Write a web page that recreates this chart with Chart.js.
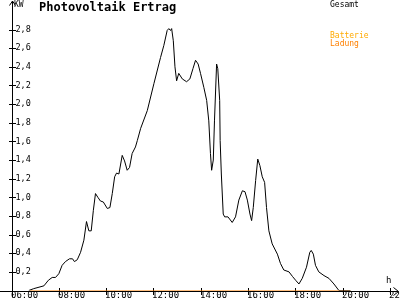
<!DOCTYPE html>
<html>
<head>
<meta charset="utf-8">
<title>Photovoltaik Ertrag</title>
<script src="https://cdn.jsdelivr.net/npm/chart.js@4.4.0/dist/chart.umd.min.js"></script>
<style>
  html, body { margin: 0; padding: 0; background: #fff; }
  #chart { display: block; }
</style>
</head>
<body>
<canvas id="chart" width="400" height="300"></canvas>
<script>
// Zeitpunkte (Stunden) und Leistung in kW
const hours = [
    6.73, 6.94, 7.37, 7.56, 7.72, 7.86, 8.00, 8.14, 8.28, 8.45, 8.58, 8.66, 8.78,
    8.92, 9.06, 9.17, 9.27, 9.37, 9.46, 9.55, 9.65, 9.76, 9.88, 10.05, 10.16,
    10.26, 10.36, 10.44, 10.54, 10.68, 10.78, 10.89, 10.99, 11.10, 11.24, 11.32,
    11.46, 11.74, 12.02, 12.30, 12.44, 12.58, 12.65, 12.72, 12.77, 12.84, 12.91,
    12.98, 13.07, 13.22, 13.40, 13.54, 13.67, 13.78, 13.89, 13.99, 14.13, 14.25,
    14.34, 14.41, 14.46, 14.53, 14.58, 14.67, 14.72, 14.80, 14.82, 14.87, 14.95,
    15.01, 15.15, 15.33, 15.47, 15.61, 15.76, 15.87, 15.97, 16.08, 16.15, 16.22,
    16.32, 16.41, 16.50, 16.60, 16.70, 16.78, 16.88, 17.02, 17.24, 17.37, 17.51,
    17.73, 17.88, 18.01, 18.15, 18.29, 18.47, 18.61, 18.67, 18.76, 18.85, 18.99,
    19.21, 19.42, 19.63, 19.84, 20.33
];
const gesamt = [
    0.00, 0.02, 0.05, 0.11, 0.14, 0.14, 0.18, 0.27, 0.31, 0.34, 0.34, 0.31, 0.33,
    0.41, 0.54, 0.74, 0.64, 0.64, 0.86, 1.04, 1.00, 0.96, 0.95, 0.88, 0.89,
    1.04, 1.22, 1.26, 1.25, 1.45, 1.39, 1.29, 1.32, 1.47, 1.54, 1.61,
    1.74, 1.93, 2.22, 2.50, 2.63, 2.79, 2.81, 2.79, 2.81, 2.68, 2.40,
    2.25, 2.33, 2.27, 2.24, 2.27, 2.38, 2.47, 2.43, 2.33, 2.18, 2.04,
    1.82, 1.47, 1.29, 1.40, 1.82, 2.43, 2.38, 2.04, 1.61, 1.25, 0.82,
    0.79, 0.79, 0.73, 0.79, 0.97, 1.07, 1.06, 0.97, 0.82, 0.75, 0.89,
    1.18, 1.41, 1.34, 1.22, 1.16, 0.89, 0.64, 0.50, 0.39, 0.29, 0.22,
    0.20, 0.15, 0.11, 0.07, 0.13, 0.25, 0.41, 0.43, 0.39, 0.27, 0.20,
    0.16, 0.13, 0.07, 0.00, 0.00
];
const ladungHours = [6.76, 20.33];
const ladung = [0, 0];

const xTicks = [6, 8, 10, 12, 14, 16, 18, 20, 22];
const xTickLabels = ['06:00', '08:00', '10:00', '12:00', '14:00', '16:00', '18:00', '20:00', '22:00'];
const yTicks = [0.2, 0.4, 0.6, 0.8, 1.0, 1.2, 1.4, 1.6, 1.8, 2.0, 2.2, 2.4, 2.6, 2.8];

const FONT = '"DejaVu Sans Mono", monospace';

function toPoints(xs, ys) {
    return xs.map((h, i) => ({ x: h, y: ys[i] }));
}

const axesPlugin = {
    id: 'axes',
    beforeDatasetsDraw(chart) {
        const { ctx, scales: { x, y } } = chart;
        const x0 = Math.round(x.getPixelForValue(6)) + 0.5;
        const y0 = Math.round(y.getPixelForValue(0)) + 0.5;
        ctx.save();
        ctx.strokeStyle = '#000';
        ctx.lineWidth = 1;
        ctx.beginPath();
        ctx.moveTo(0, y0); ctx.lineTo(398, y0);
        ctx.moveTo(x0, 297); ctx.lineTo(x0, 1);
        ctx.moveTo(393.5, y0 - 4); ctx.lineTo(398.5, y0); ctx.lineTo(393.5, y0 + 4);
        ctx.moveTo(x0 - 3, 5.5); ctx.lineTo(x0, 1); ctx.lineTo(x0 + 3, 5.5);
        yTicks.forEach(v => {
            const p = Math.round(y.getPixelForValue(v)) + 0.5;
            ctx.moveTo(x0 - 3.5, p); ctx.lineTo(x0 + 3.5, p);
        });
        xTicks.forEach(v => {
            const p = Math.round(x.getPixelForValue(v)) + 0.5;
            ctx.moveTo(p, y0 - 3.5); ctx.lineTo(p, y0 + 3.5);
        });
        ctx.stroke();

        ctx.textBaseline = 'middle';
        ctx.textAlign = 'left';
        ctx.fillStyle = '#000';
        ctx.font = '9px ' + FONT;
        xTicks.forEach((v, i) => {
            ctx.fillText(xTickLabels[i], Math.round(x.getPixelForValue(v)) - 1, 295.5);
        });
        ctx.font = 'bold 12px ' + FONT;
        ctx.fillText('Photovoltaik Ertrag', 39, 8);
        ctx.font = '8px ' + FONT;
        ctx.fillText('KW', 14, 5);
        ctx.fillText('Gesamt', 330, 5);
        ctx.fillStyle = '#ffaa00';
        ctx.fillText('Batterie', 330, 36);
        ctx.fillStyle = '#ff8000';
        ctx.fillText('Ladung', 330, 44);
        ctx.fillStyle = '#000';
        ctx.font = '9px ' + FONT;
        ctx.fillText('h', 386, 281);
        ctx.restore();
    }
};

const canvas = document.getElementById('chart');

const chart = new Chart(canvas, {
    type: 'line',
    data: {
        datasets: [{
            label: 'Gesamt',
            data: toPoints(hours, gesamt),
            borderColor: '#000',
            borderWidth: 1,
            pointRadius: 0,
            tension: 0,
            fill: false
        }, {
            label: 'Batterie Ladung',
            data: toPoints(ladungHours, ladung),
            borderColor: '#ff8000',
            borderWidth: 1,
            pointRadius: 0,
            tension: 0,
            fill: false
        }]
    },
    options: {
        responsive: false,
        animation: false,
        devicePixelRatio: 1,
        layout: { padding: { top: 10.9, right: 10, left: 0, bottom: 0 } },
        plugins: {
            legend: { display: false },
            tooltip: { enabled: false }
        },
        scales: {
            x: {
                type: 'linear',
                min: 6,
                max: 22,
                grid: { display: false },
                border: { display: false },
                afterBuildTicks: s => { s.ticks = xTicks.map(v => ({ value: v })); },
                afterFit: s => { s.height = 9.5; s.paddingLeft = 0; s.paddingRight = 0; },
                ticks: { display: false }
            },
            y: {
                min: 0,
                max: 3,
                grid: { display: false },
                border: { display: false },
                afterBuildTicks: s => { s.ticks = yTicks.map(v => ({ value: v })); },
                afterFit: s => { s.width = 11.5; s.paddingTop = 0; s.paddingBottom = 0; },
                ticks: {
                    mirror: true,
                    padding: 4,
                    color: '#000',
                    font: { family: FONT, size: 8.5 },
                    callback: v => v.toFixed(1).replace('.', ',')
                }
            }
        }
    },
    plugins: [axesPlugin]
});
</script>
</body>
</html>
